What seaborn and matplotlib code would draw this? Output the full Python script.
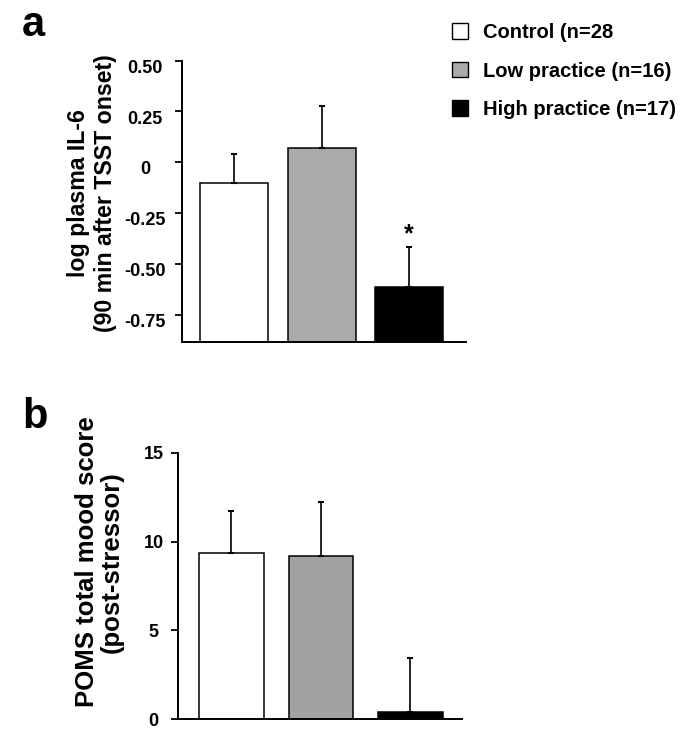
import matplotlib
matplotlib.use("Agg")
import matplotlib.pyplot as plt
import matplotlib.transforms as mtransforms
from matplotlib.patches import Patch
import numpy as np
import pandas as pd
import seaborn as sns

# --- data ---
groups = ["Control", "Low practice", "High practice"]
legend_labels = ["Control (n=28", "Low practice (n=16)", "High practice (n=17)"]
colors_a = ["#ffffff", "#aaaaaa", "#000000"]
colors_b = ["#ffffff", "#a2a2a2", "#000000"]

il6_mean = [-0.10, 0.07, -0.615]
il6_sem = [0.143, 0.205, 0.20]
il6_ticks = [0.50, 0.25, 0, -0.25, -0.50, -0.75]
il6_ticklabels = ["0.50", "0.25", "0", "-0.25", "-0.50", "-0.75"]
il6_floor = -0.886

poms_mean = [9.37, 9.19, 0.43]
poms_sem = [2.35, 3.06, 3.04]
poms_ticks = [0, 5, 10, 15]
poms_ticklabels = ["0", "5", "10", "15"]

sns.set_style("ticks")
plt.rcParams["font.family"] = ["Liberation Sans", "DejaVu Sans"]
plt.rcParams["font.weight"] = "bold"
for key in ["text.color", "axes.labelcolor", "xtick.color", "ytick.color", "axes.edgecolor"]:
    plt.rcParams[key] = "black"

W, H = 693, 735
fig = plt.figure(figsize=(W / 100, H / 100), dpi=100)


def px_axes(left, top, right, bottom):
    return fig.add_axes([left / W, 1 - bottom / H, (right - left) / W, (bottom - top) / H])


def style_axes(ax, ticks, ticklabels, pad, shift_px=0):
    ax.set_yticks(ticks)
    ax.set_yticklabels(ticklabels, fontsize=13, fontweight="bold")
    ax.set_xticks([])
    ax.set_xlabel("")
    ax.tick_params(axis="y", direction="out", length=5, width=1.3, pad=pad, colors="black")
    for lab in ax.get_yticklabels():
        lab.set_ha("center")
        if shift_px:
            lab.set_transform(lab.get_transform() + mtransforms.ScaledTranslation(
                0, -shift_px / 72, fig.dpi_scale_trans))
    sns.despine(ax=ax)
    for side in ["left", "bottom"]:
        ax.spines[side].set_linewidth(1.4)
        ax.spines[side].set_color("black")


# --- panel a: IL-6 ---
ax_a = px_axes(181.7, 60.7, 465.7, 342.3)
df_a = pd.DataFrame({"group": groups, "height": np.array(il6_mean) - il6_floor})
sns.barplot(data=df_a, x="group", y="height", hue="group", palette=colors_a,
            order=groups, hue_order=groups, width=0.78, bottom=il6_floor,
            edgecolor="black", linewidth=1.1, errorbar=None, legend=False, ax=ax_a)
ax_a.errorbar(range(len(groups)), il6_mean, yerr=[np.zeros(len(groups)), il6_sem],
              fmt="none", ecolor="black", elinewidth=1.2, capsize=2.3, capthick=1.5)
ax_a.set_xlim(-0.6, 2.646)
ax_a.set_ylim(il6_floor, 0.5)
ax_a.set_ylabel("log plasma IL-6\n(90 min after TSST onset)", fontsize=16.7,
                fontweight="bold", va="center", linespacing=1.2)
ax_a.yaxis.set_label_coords(-0.315, 0.53)
style_axes(ax_a, il6_ticks, il6_ticklabels, pad=21.5, shift_px=4)
ax_a.text(2, il6_mean[2] + il6_sem[2], "*", ha="center", va="bottom",
          fontsize=18, fontweight="bold")

# --- panel b: POMS ---
ax_b = px_axes(177.7, 452.7, 461.7, 719.3)
df_b = pd.DataFrame({"group": groups, "score": poms_mean})
sns.barplot(data=df_b, x="group", y="score", hue="group", palette=colors_b,
            order=groups, hue_order=groups, width=0.72,
            edgecolor="black", linewidth=1.1, errorbar=None, legend=False, ax=ax_b)
ax_b.errorbar(range(len(groups)), poms_mean, yerr=[np.zeros(len(groups)), poms_sem],
              fmt="none", ecolor="black", elinewidth=1.2, capsize=2.3, capthick=1.5)
ax_b.set_xlim(-0.6, 2.574)
ax_b.set_ylim(0, 15)
ax_b.set_ylabel("POMS total mood score\n(post-stressor)", fontsize=18.5,
                fontweight="bold", va="center", linespacing=1.05)
ax_b.yaxis.set_label_coords(-0.277, 0.59)
style_axes(ax_b, poms_ticks, poms_ticklabels, pad=12.2)

# panel letters
fig.text(22 / W, 1 - 36 / H, "a", fontsize=30, fontweight="bold", ha="left", va="baseline")
fig.text(22 / W, 1 - 428 / H, "b", fontsize=30, fontweight="bold", ha="left", va="baseline")

# legend
handles = [Patch(facecolor=c, edgecolor="black", linewidth=1.0) for c in colors_a]
fig.legend(handles, legend_labels, loc="upper left", bbox_to_anchor=(452 / W, 1 - 23 / H),
           frameon=False, fontsize=14.5, handlelength=0.8, handleheight=0.8,
           handletextpad=0.73, labelspacing=0.97, borderpad=0, borderaxespad=0)

fig.savefig("out.png", dpi=100)
